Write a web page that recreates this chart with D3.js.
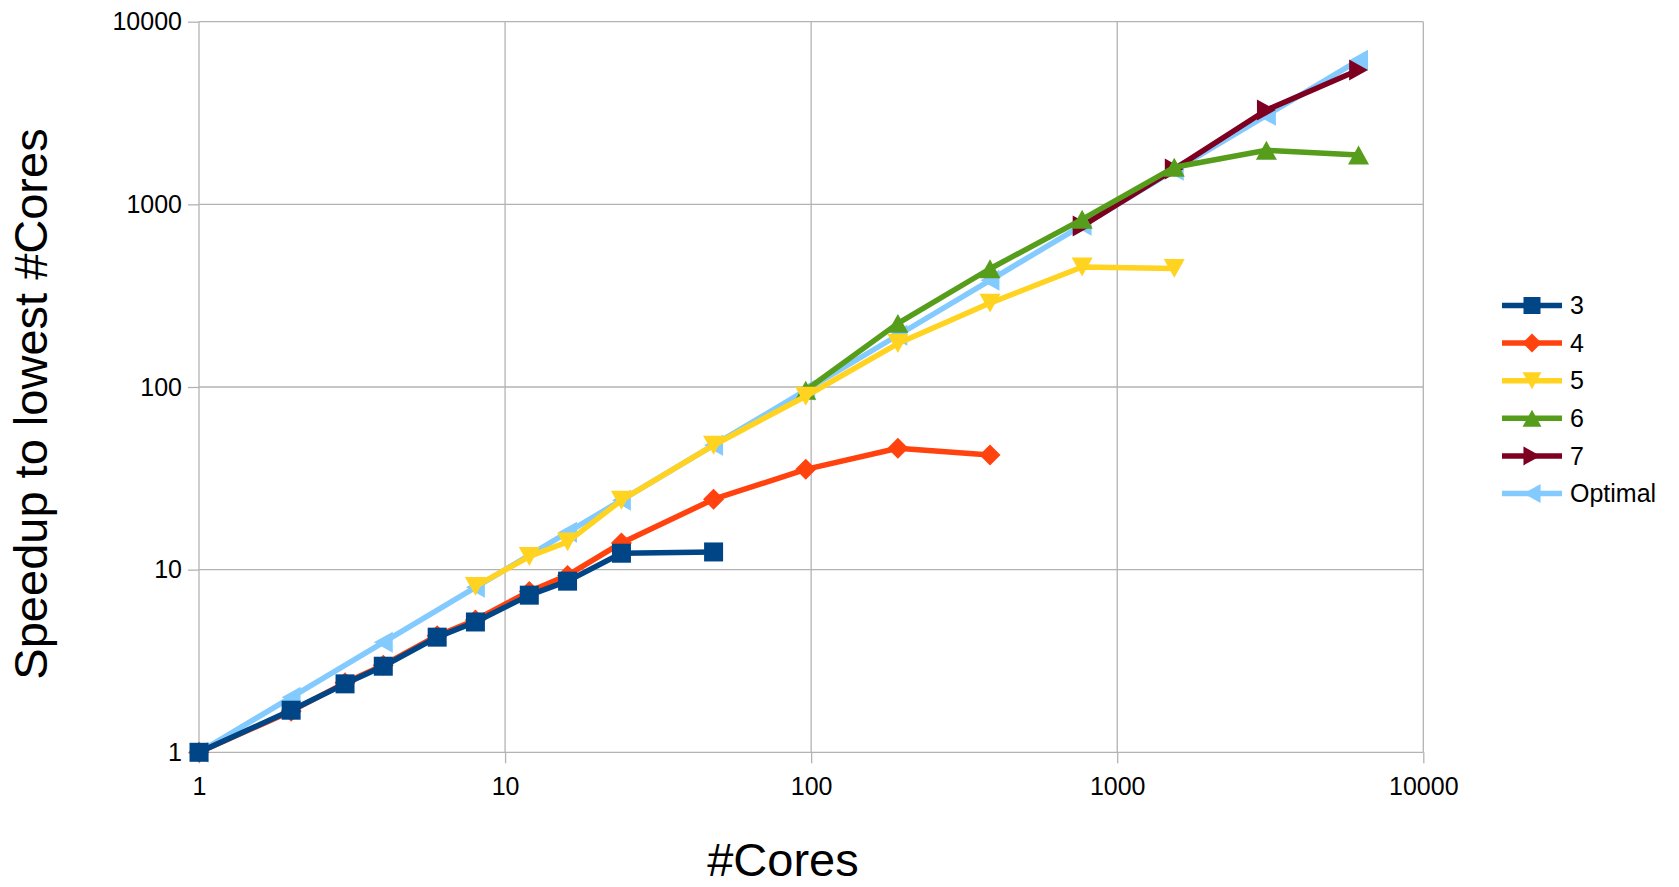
<!DOCTYPE html>
<html>
<head>
<meta charset="utf-8">
<script src="https://cdn.jsdelivr.net/npm/d3@7"></script>
<style>
  html, body { margin: 0; padding: 0; background: #fff; }
  svg { display: block; font-family: "Liberation Sans", Arial, sans-serif; }
</style>
</head>
<body>
<svg id="chart" width="1679" height="887"></svg>
<script>
// ---- data ----
const seriesNames = ["3", "4", "5", "6", "7", "Optimal"];
const cores3 = [1, 2, 3, 4, 6, 8, 12, 16, 24, 48];
const speedup3 = [1, 1.7, 2.37, 2.96, 4.27, 5.17, 7.25, 8.65, 12.3, 12.5];
const cores4 = [1, 2, 3, 4, 6, 8, 12, 16, 24, 48, 96, 192, 384];
const speedup4 = [1, 1.68, 2.4, 3.0, 4.35, 5.3, 7.6, 9.3, 14.0, 24.3, 35.4, 46.2, 42.4];
const cores5 = [8, 12, 16, 24, 48, 96, 192, 384, 768, 1536];
const speedup5 = [8.1, 11.8, 14.2, 24, 48, 89, 173, 288, 454, 446];
const cores6 = [96, 192, 384, 768, 1536, 3072, 6144];
const speedup6 = [96, 223, 444, 828, 1595, 1977, 1862];
const cores7 = [768, 1536, 3072, 6144];
const speedup7 = [760, 1560, 3286, 5437];
const coresOpt = [1, 2, 4, 8, 16, 24, 48, 96, 192, 384, 768, 1536, 3072, 6144];
const speedupOpt = [1, 2, 4, 8, 16, 24, 48, 96, 192, 384, 768, 1536, 3072, 6144];
const xTicks = [1, 10, 100, 1000, 10000];
const yTicks = [1, 10, 100, 1000, 10000];
const xTitle = "#Cores";
const yTitle = "Speedup to lowest #Cores";

const colors = ["#004586", "#ff420e", "#ffd320", "#579d1c", "#7e0021", "#83caff"];
const markers = ["square", "diamond", "triDown", "triUp", "triRight", "triLeft"];

const series = [
  { name: seriesNames[0], xs: cores3, ys: speedup3 },
  { name: seriesNames[1], xs: cores4, ys: speedup4 },
  { name: seriesNames[2], xs: cores5, ys: speedup5 },
  { name: seriesNames[3], xs: cores6, ys: speedup6 },
  { name: seriesNames[4], xs: cores7, ys: speedup7 },
  { name: seriesNames[5], xs: coresOpt, ys: speedupOpt }
].map((s, i) => ({ ...s, color: colors[i], marker: markers[i],
  pts: s.xs.map((v, j) => [v, s.ys[j]]) }));

// ---- layout ----
const pLeft = 199, pRight = 1423.3, pTop = 21.7, pBottom = 752.3;
const svg = d3.select("#chart");
const x = d3.scaleLog().domain([1, 10000]).range([pLeft, pRight]);
const y = d3.scaleLog().domain([1, 10000]).range([pBottom, pTop]);
const grid = "#b3b3b3";

// gridlines
svg.append("g").selectAll("line").data(yTicks).join("line")
  .attr("x1", pLeft).attr("x2", pRight)
  .attr("y1", d => y(d)).attr("y2", d => y(d))
  .attr("stroke", grid).attr("stroke-width", 1.3);
svg.append("g").selectAll("line").data(xTicks).join("line")
  .attr("y1", pTop).attr("y2", pBottom)
  .attr("x1", d => x(d)).attr("x2", d => x(d))
  .attr("stroke", grid).attr("stroke-width", 1.3);

// axes (labels via d3 axes)
const fmt = d3.format("d");
const yAxis = svg.append("g").attr("transform", `translate(${pLeft},0)`)
  .call(d3.axisLeft(y).tickValues(yTicks).tickFormat(fmt).tickSize(11).tickPadding(6));
const xAxis = svg.append("g").attr("transform", `translate(0,${pBottom})`)
  .call(d3.axisBottom(x).tickValues(xTicks).tickFormat(fmt).tickSize(11).tickPadding(14));
[yAxis, xAxis].forEach(g => {
  g.select(".domain").remove();
  g.selectAll(".tick line").attr("stroke", grid).attr("stroke-width", 1.3);
  g.selectAll(".tick text").attr("fill", "#000").style("font-size", "25px")
    .style("font-family", '"Liberation Sans", Arial, sans-serif');
});

// marker path generator
function markerPath(type, s) {
  const h = s / 2;
  switch (type) {
    case "square": return `M${-h},${-h}H${h}V${h}H${-h}Z`;
    case "diamond": return `M0,${-h}L${h},0L0,${h}L${-h},0Z`;
    case "triDown": return `M${-h},${-h * 0.9}L${h},${-h * 0.9}L0,${h * 0.9}Z`;
    case "triUp": return `M${-h},${h * 0.9}L${h},${h * 0.9}L0,${-h * 0.9}Z`;
    case "triRight": return `M${-h * 0.9},${-h}L${h * 0.9},0L${-h * 0.9},${h}Z`;
    case "triLeft": return `M${h * 0.9},${-h}L${-h * 0.9},0L${h * 0.9},${h}Z`;
  }
}
const markerSize = { square: 19, diamond: 21, triDown: 21, triUp: 21, triRight: 21, triLeft: 21 };

const line = d3.line().x(d => x(d[0])).y(d => y(d[1]));
const plot = svg.append("g");
// draw in reverse order so series "3" ends on top
series.slice().reverse().forEach(s => {
  const g = plot.append("g");
  g.append("path").attr("d", line(s.pts)).attr("fill", "none")
    .attr("stroke", s.color).attr("stroke-width", 5.5).attr("stroke-linejoin", "round");
  g.selectAll("path.m").data(s.pts).join("path")
    .attr("class", "m")
    .attr("transform", d => `translate(${x(d[0])},${y(d[1])})`)
    .attr("d", markerPath(s.marker, markerSize[s.marker]))
    .attr("fill", s.color);
});

// legend
const legY0 = 305.5, legStep = 37.6;
const legend = svg.append("g");
series.forEach((s, i) => {
  const ly = legY0 + i * legStep;
  legend.append("line").attr("x1", 1502).attr("x2", 1562).attr("y1", ly).attr("y2", ly)
    .attr("stroke", s.color).attr("stroke-width", 5.5);
  legend.append("path").attr("transform", `translate(1532,${ly})`)
    .attr("d", markerPath(s.marker, markerSize[s.marker] - 2)).attr("fill", s.color);
  legend.append("text").attr("x", 1570).attr("y", ly).attr("dy", "0.35em")
    .style("font-size", "25px").attr("fill", "#000").text(s.name);
});

// titles
svg.append("text").attr("x", 783).attr("y", 876).attr("text-anchor", "middle")
  .style("font-size", "47px").attr("fill", "#000").text(xTitle);
svg.append("text").attr("transform", "translate(47,404) rotate(-90)")
  .attr("text-anchor", "middle").style("font-size", "47px").attr("fill", "#000").text(yTitle);
</script>
</body>
</html>
